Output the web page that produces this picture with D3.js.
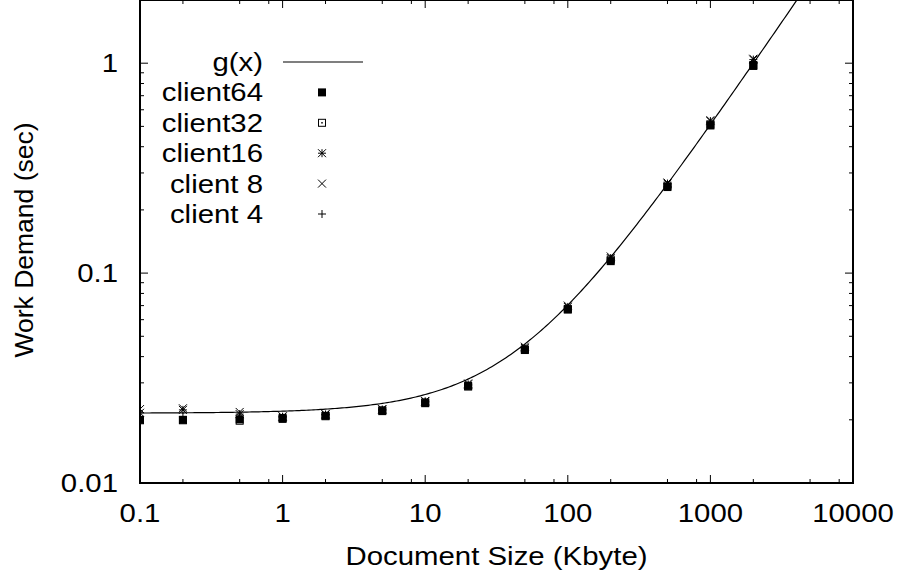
<!DOCTYPE html>
<html lang="en">
<head>
<meta charset="utf-8">
<title>Work demand vs document size</title>
<script src="https://d3js.org/d3.v7.min.js"></script>
<style>
  body { margin: 0; background: #fff; }
  svg text { font-family: "Liberation Sans", Arial, sans-serif; fill: #000; font-size: 26px; }
</style>
</head>
<body>
<div id="chart"></div>
<script>
// document sizes (Kbyte)
const sizes = [0.1, 0.2, 0.5, 1, 2, 5, 10, 20, 50, 100, 200, 500, 1000, 2000];

const client64 = [0.0200, 0.0200, 0.0201, 0.0204, 0.0209, 0.0220, 0.0240, 0.0290, 0.0430, 0.0670, 0.114, 0.257, 0.505, 0.970];
const client32 = [0.0199, 0.0199, 0.0198, 0.0202, 0.0208, 0.0222, 0.0242, 0.0288, 0.0433, 0.0675, 0.116, 0.261, 0.510, 0.980];
const client16 = [0.0216, 0.0223, 0.0213, 0.0207, 0.0212, 0.0224, 0.0245, 0.0295, 0.0440, 0.0690, 0.118, 0.267, 0.530, 1.040];
const client8  = [0.0225, 0.0227, 0.0218, 0.0208, 0.0213, 0.0225, 0.0246, 0.0298, 0.0446, 0.0700, 0.120, 0.270, 0.535, 1.050];
const client4  = [0.0205, 0.0207, 0.0205, 0.0206, 0.0211, 0.0222, 0.0243, 0.0292, 0.0437, 0.0680, 0.116, 0.263, 0.520, 1.010];

// fitted line g(x) = gA + gB * x
const gA = 0.0215, gB = 0.000489;

const xTicks = [0.1, 1, 10, 100, 1000, 10000];
const yTicks = [0.01, 0.1, 1];

const series = [
  { name: "client64", values: client64, sym: "fsquare" },
  { name: "client32", values: client32, sym: "dsquare" },
  { name: "client16", values: client16, sym: "star" },
  { name: "client 8", values: client8, sym: "cross" },
  { name: "client 4", values: client4, sym: "plus" }
];

const W = 898, H = 581;
const margin = { top: 0, right: 45, bottom: 98, left: 140 };

const svg = d3.select("#chart").append("svg")
  .attr("width", W).attr("height", H);

const x = d3.scaleLog().domain([0.1, 10000]).range([margin.left, W - margin.right]);
const y = d3.scaleLog().domain([0.01, 2]).range([H - margin.bottom, margin.top]);

const x0 = x.range()[0], x1 = x.range()[1];
const y0 = y.range()[0], y1 = y.range()[1];

// text placed at (tx, ty), stretched sideways by sx (the original fonts are a bit wide)
function label(g, tx, ty, anchor, str, rot, sx) {
  sx = sx || 1.13;
  return g.append("text")
    .attr("transform", `translate(${tx},${ty})${rot ? " rotate(" + rot + ")" : ""} scale(${sx},1)`)
    .attr("text-anchor", anchor)
    .text(str);
}

// minor ticks: x at 2,5,8 per decade, y at 2..9
const xMinor = [];
for (let e = -1; e < 4; e++) [2, 5, 8].forEach(m => xMinor.push(m * Math.pow(10, e)));
const yMinor = [];
for (let e = -2; e < 1; e++) for (let m = 2; m <= 9; m++) {
  const v = m * Math.pow(10, e);
  if (v < 2) yMinor.push(v);
}

const ticks = svg.append("g").attr("stroke", "#000").attr("stroke-width", 1);
xTicks.concat(xMinor).forEach(v => {
  const len = xTicks.includes(v) ? 8 : 4;
  const px = x(v);
  ticks.append("line").attr("x1", px).attr("x2", px).attr("y1", y0).attr("y2", y0 - len);
  ticks.append("line").attr("x1", px).attr("x2", px).attr("y1", y1).attr("y2", y1 + len);
});
yTicks.concat(yMinor).forEach(v => {
  const len = yTicks.includes(v) ? 8 : 4;
  const py = y(v);
  ticks.append("line").attr("y1", py).attr("y2", py).attr("x1", x0).attr("x2", x0 + len);
  ticks.append("line").attr("y1", py).attr("y2", py).attr("x1", x1).attr("x2", x1 - len);
});

// border
svg.append("rect")
  .attr("x", x0).attr("y", y1)
  .attr("width", x1 - x0).attr("height", y0 - y1)
  .attr("fill", "none").attr("stroke", "#000").attr("stroke-width", 2);

// tick labels
const fmt = v => (v < 1 ? String(v) : d3.format("d")(v));
const tl = svg.append("g");
xTicks.forEach(d => label(tl, x(d), y0 + 39, "middle", fmt(d)));
yTicks.forEach(d => label(tl, x0 - 22, y(d) + 9, "end", fmt(d)));

// axis titles
label(svg, (x0 + x1) / 2, 565, "middle", "Document Size (Kbyte)");
label(svg, 33, 240, "middle", "Work Demand (sec)", -90, 1.02);

// clip for the plot area
svg.append("clipPath").attr("id", "clip").append("rect")
  .attr("x", x0).attr("y", y1).attr("width", x1 - x0).attr("height", y0 - y1);

// g(x) curve
const gxs = d3.range(0, 301).map(i => Math.pow(10, -1 + i * 5 / 300));
svg.append("path")
  .datum(gxs)
  .attr("clip-path", "url(#clip)")
  .attr("fill", "none").attr("stroke", "#000").attr("stroke-width", 1.2)
  .attr("d", d3.line().x(d => x(d)).y(d => y(gA + gB * d)));

// marker drawing
function marker(g, sym, cx, cy) {
  const s = 4;
  if (sym === "fsquare") {
    g.append("rect").attr("x", cx - s).attr("y", cy - s).attr("width", 2 * s).attr("height", 2 * s)
      .attr("fill", "#000");
  } else if (sym === "dsquare") {
    g.append("rect").attr("x", cx - s + 0.5).attr("y", cy - s + 0.5).attr("width", 2 * s - 1).attr("height", 2 * s - 1)
      .attr("fill", "none").attr("stroke", "#000").attr("stroke-width", 1);
    g.append("rect").attr("x", cx - 0.75).attr("y", cy - 0.75).attr("width", 1.5).attr("height", 1.5)
      .attr("fill", "#000");
  } else {
    const p = d3.path();
    if (sym === "plus" || sym === "star") {
      p.moveTo(cx - s, cy); p.lineTo(cx + s, cy);
      p.moveTo(cx, cy - s); p.lineTo(cx, cy + s);
    }
    if (sym === "cross" || sym === "star") {
      p.moveTo(cx - s, cy - s); p.lineTo(cx + s, cy + s);
      p.moveTo(cx - s, cy + s); p.lineTo(cx + s, cy - s);
    }
    g.append("path").attr("d", p.toString()).attr("fill", "none")
      .attr("stroke", "#000").attr("stroke-width", 1);
  }
}

// data points (drawn back to front so the filled squares sit on top)
const pts = svg.append("g").attr("clip-path", "url(#clip)");
series.slice().reverse().forEach(s => {
  s.values.forEach((v, i) => marker(pts, s.sym, x(sizes[i]), y(v)));
});

// legend
const legX = 263, legY0 = 62, legStep = 30.4;
const leg = svg.append("g");
label(leg, legX, legY0 + 9, "end", "g(x)");
leg.append("line").attr("x1", 283).attr("x2", 363).attr("y1", legY0).attr("y2", legY0)
  .attr("stroke", "#000").attr("stroke-width", 1.2);
series.forEach((s, i) => {
  const ly = legY0 + (i + 1) * legStep;
  label(leg, legX, ly + 9, "end", s.name);
  marker(leg, s.sym, 322, ly);
});
</script>
</body>
</html>
